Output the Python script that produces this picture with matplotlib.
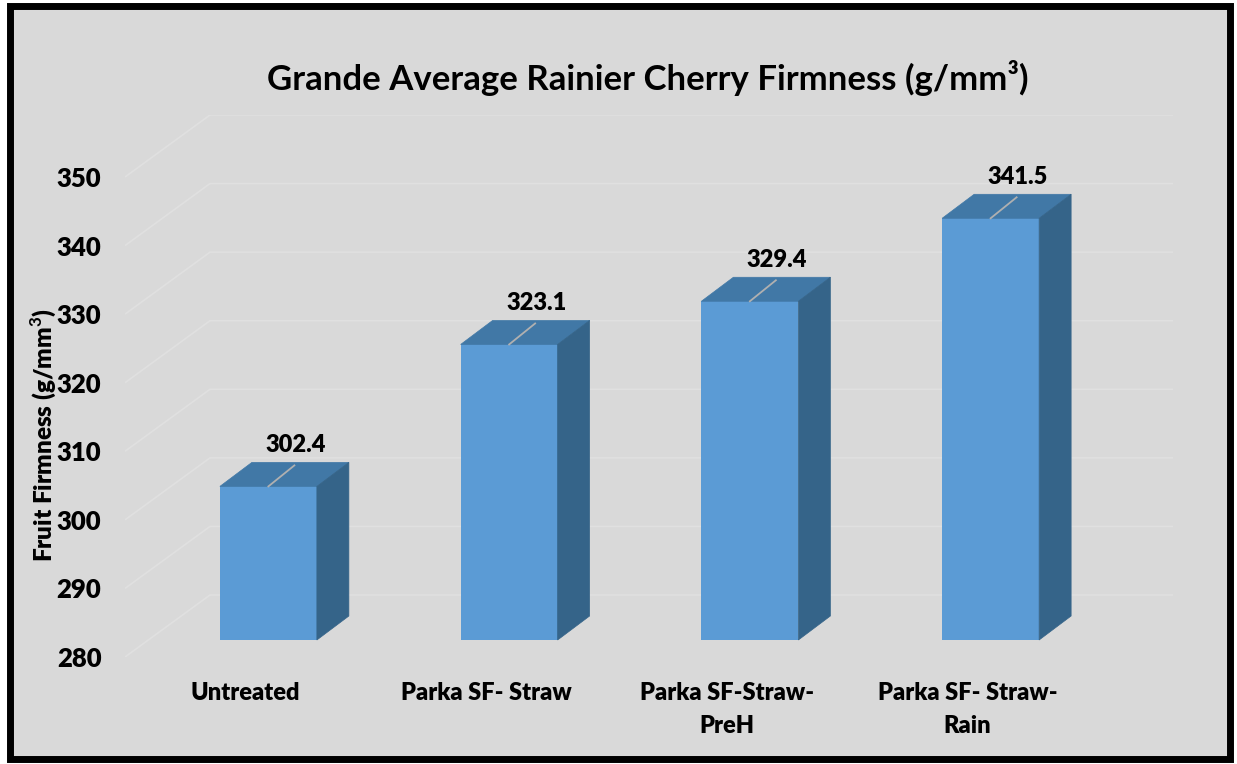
import numpy as np
import matplotlib.pyplot as plt
from matplotlib.patches import Polygon, Rectangle

# data
categories = ['Untreated', 'Parka SF- Straw', 'Parka SF-Straw-\nPreH', 'Parka SF- Straw-\nRain']
firmness = [302.4, 323.1, 329.4, 341.5]
y_ticks = [280, 290, 300, 310, 320, 330, 340, 350]

plt.rcParams['font.family'] = ['Lato', 'DejaVu Sans']
plt.rcParams['font.weight'] = 'bold'
plt.rcParams['mathtext.fontset'] = 'custom'
plt.rcParams['mathtext.bf'] = 'Lato:bold'

fig = plt.figure(figsize=(12.37, 7.64), dpi=100)
fig.patch.set_facecolor('white')
# chart frame
fig.patches.append(Rectangle((0.008, 0.006), 0.986, 0.986, transform=fig.transFigure,
                             facecolor='#d9d9d9', edgecolor='black', linewidth=5, zorder=-1))

ax = fig.add_axes([125 / 1237, 107 / 764, 1048 / 1237, 542 / 764])
ax.set_zorder(1)
ax.set_facecolor('none')
ymin = 280
ymax = 280 + 542 / (480 / 70)
ax.set_ylim(ymin, ymax)
ax.set_xlim(-0.5, 3.5 + 85 / 240.75)

# 3d offsets (data units)
u = 480 / 70  # pixels per unit on y
depth_x, depth_y = 85 / 240.75, 62 / u        # full wall depth
front_x, front_y = 23 / 240.75, 17 / u        # bar front face offset
bar_dx, bar_dy = 32 / 240.75, 24 / u          # bar depth
bar_w = 97 / 240.75

# gridlines on floor/back wall
for t in y_ticks:
    ax.plot([-0.5, -0.5 + depth_x, 3.5 + depth_x], [t, t + depth_y, t + depth_y],
            color='#e0e0e0', lw=1.2, zorder=1, solid_capstyle='butt')

x = np.arange(len(categories))
fx = x + front_x
ax.bar(fx, np.array(firmness) - ymin, bottom=ymin + front_y, width=bar_w,
       color='#5b9bd5', zorder=3)

for xi, v in zip(fx, firmness):
    l, r = xi - bar_w / 2, xi + bar_w / 2
    top = v + front_y
    bot = ymin + front_y
    ax.add_patch(Polygon([(l, top), (r, top), (r + bar_dx, top + bar_dy), (l + bar_dx, top + bar_dy)],
                         closed=True, facecolor='#4178a6', edgecolor='#4178a6', lw=0.5, zorder=3))
    ax.add_patch(Polygon([(r, bot), (r, top), (r + bar_dx, top + bar_dy), (r + bar_dx, bot + bar_dy)],
                         closed=True, facecolor='#356489', edgecolor='#356489', lw=0.5, zorder=3))
    # leader line
    ax.plot([xi, xi + 26 / 240.75], [top, top + 21 / u], color='#b0b0b0', lw=1.3, zorder=4)
    ax.text(xi + 27 / 240.75, v + 58 / u, f'{v:.1f}', ha='center', va='center',
            fontsize=17, fontweight='heavy', zorder=5)

ax.set_yticks(y_ticks)
ax.set_yticklabels([str(t) for t in y_ticks], fontsize=18.5, fontweight='heavy')
ax.set_xticks(x)
ax.set_xticklabels(categories, fontsize=17, fontweight='heavy', linespacing=1.6, va='top')
ax.tick_params(axis='both', length=0)
ax.tick_params(axis='y', pad=17)
ax.tick_params(axis='x', pad=18)
for s in ax.spines.values():
    s.set_visible(False)

ax.set_ylabel('Fruit Firmness (g/mm$^\\mathbf{3}$)', fontsize=17.5, fontweight='heavy')
ax.yaxis.set_label_coords(-67 / 1048, 0.41)

fig.text(648 / 1237, 1 - 78 / 764, 'Grande Average Rainier Cherry Firmness (g/mm³)',
         ha='center', va='center', fontsize=25, fontweight='bold')

fig.savefig('out.png', dpi=100)
